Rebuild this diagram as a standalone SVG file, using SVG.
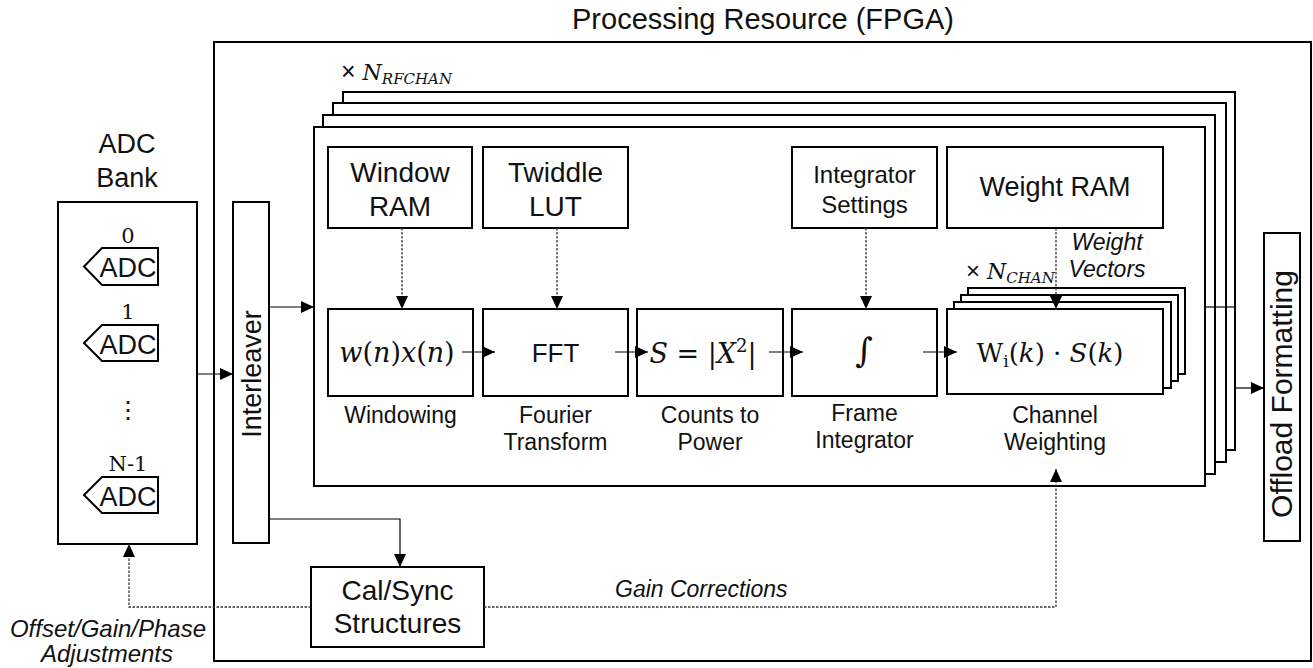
<svg xmlns="http://www.w3.org/2000/svg" width="1313" height="668" viewBox="0 0 1313 668">
<defs>
<style>
.box{fill:#fff;stroke:#000;stroke-width:2}
.t{font-family:"Liberation Sans",Arial,sans-serif;fill:#111}
.m{font-family:"DejaVu Serif","Liberation Serif",serif;fill:#111}
.i{font-style:italic}
.c{stroke:#000;stroke-width:1.2;fill:none}
.d{stroke:#333;stroke-width:1.3;fill:none;stroke-dasharray:2.5 1.5}
</style>
<marker id="ah" markerWidth="13" markerHeight="12" refX="13" refY="6" orient="auto" markerUnits="userSpaceOnUse"><path d="M0,0 L13,6 L0,12 Z" fill="#000"/></marker>
</defs>
<rect width="1313" height="668" fill="#fff"/>

<g id="fpga">
<rect class="box" x="214" y="42" width="1097" height="619"/>
<text class="t" x="763" y="29" font-size="29" text-anchor="middle">Processing Resource (FPGA)</text>
</g>

<g id="rf-channels">
<rect class="box" x="343" y="92" width="892" height="358"/>
<rect class="box" x="333" y="103" width="893" height="359"/>
<rect class="box" x="323" y="115" width="892" height="359"/>
<rect class="box" x="314" y="127" width="891" height="359"/>
<text class="m" x="341" y="80" font-size="22"><tspan font-family="Liberation Sans" font-size="25">×</tspan> <tspan class="i">N</tspan><tspan class="i" font-size="15" dy="4">RFCHAN</tspan></text>
</g>

<g id="adc-bank">
<text class="t" x="127" y="153" font-size="27" text-anchor="middle">ADC</text>
<text class="t" x="127" y="187" font-size="27" text-anchor="middle">Bank</text>
<rect class="box" x="58" y="202" width="139" height="342"/>
<text class="m" x="128" y="243" font-size="21" text-anchor="middle">0</text>
<path class="box" d="M102,248 L158,248 L158,285 L102,285 L84,266.5 Z"/>
<text class="t" x="128" y="277" font-size="27" text-anchor="middle">ADC</text>
<text class="m" x="128" y="319" font-size="21" text-anchor="middle">1</text>
<path class="box" d="M102,325 L158,325 L158,361 L102,361 L84,343 Z"/>
<text class="t" x="128" y="354" font-size="27" text-anchor="middle">ADC</text>
<text class="t" x="128" y="418" font-size="24" text-anchor="middle" font-family="DejaVu Sans">⋮</text>
<text class="m" x="128" y="471" font-size="21" text-anchor="middle">N-1</text>
<path class="box" d="M102,477 L158,477 L158,513 L102,513 L84,495 Z"/>
<text class="t" x="128" y="506" font-size="27" text-anchor="middle">ADC</text>
</g>

<g id="interleaver">
<rect class="box" x="233" y="202" width="36" height="341"/>
<text class="t" font-size="27" text-anchor="middle" transform="translate(261,374) rotate(-90)">Interleaver</text>
</g>

<g id="window-ram">
<rect class="box" x="328" y="147" width="144" height="81"/>
<text class="t" x="400" y="182" font-size="28" text-anchor="middle">Window</text>
<text class="t" x="400" y="216" font-size="28" text-anchor="middle">RAM</text>
</g>
<g id="twiddle-lut">
<rect class="box" x="483" y="147" width="145" height="81"/>
<text class="t" x="555.5" y="182" font-size="28" text-anchor="middle">Twiddle</text>
<text class="t" x="555.5" y="216" font-size="28" text-anchor="middle">LUT</text>
</g>
<g id="integrator-settings">
<rect class="box" x="792" y="147" width="145" height="81"/>
<text class="t" x="864.5" y="183" font-size="24" text-anchor="middle">Integrator</text>
<text class="t" x="864.5" y="213" font-size="24" text-anchor="middle">Settings</text>
</g>
<g id="weight-ram">
<rect class="box" x="947" y="147" width="216" height="81"/>
<text class="t" x="1055" y="196" font-size="27" text-anchor="middle">Weight RAM</text>
</g>

<g id="windowing">
<rect class="box" x="328" y="309" width="145" height="87"/>
<text class="m" x="397" y="362" font-size="27" text-anchor="middle"><tspan class="i">w</tspan>(<tspan class="i">n</tspan>)<tspan class="i">x</tspan>(<tspan class="i">n</tspan>)</text>
<text class="t" x="400.5" y="423" font-size="23" text-anchor="middle">Windowing</text>
</g>
<g id="fft">
<rect class="box" x="483" y="309" width="145" height="87"/>
<text class="t" x="555.5" y="362" font-size="26" text-anchor="middle">FFT</text>
<text class="t" x="555.5" y="423" font-size="23" text-anchor="middle">Fourier</text>
<text class="t" x="555.5" y="450" font-size="23" text-anchor="middle">Transform</text>
</g>
<g id="power">
<rect class="box" x="637" y="309" width="146" height="87"/>
<text class="m" x="703" y="363" font-size="27" text-anchor="middle"><tspan class="i">S</tspan> = |<tspan class="i">X</tspan><tspan font-size="18" dy="-11">2</tspan><tspan dy="11">|</tspan></text>
<text class="t" x="710" y="423" font-size="23" text-anchor="middle">Counts to</text>
<text class="t" x="710" y="450" font-size="23" text-anchor="middle">Power</text>
</g>
<g id="frame-integrator">
<rect class="box" x="792" y="309" width="145" height="87"/>
<text class="m" x="864" y="362" font-size="34" text-anchor="middle">∫</text>
<text class="t" x="864.5" y="421" font-size="23" text-anchor="middle">Frame</text>
<text class="t" x="864.5" y="448" font-size="23" text-anchor="middle">Integrator</text>
</g>
<g id="channel-weighting">
<rect class="box" x="968" y="288" width="217" height="86"/>
<rect class="box" x="961" y="295" width="217" height="86"/>
<rect class="box" x="954" y="302" width="217" height="86"/>
<rect class="box" x="947" y="309" width="216" height="85"/>
<text class="m" x="1050" y="362" font-size="26" text-anchor="middle">W<tspan font-size="17" dy="5">i</tspan><tspan dy="-5">(</tspan><tspan class="i">k</tspan>) · <tspan class="i">S</tspan>(<tspan class="i">k</tspan>)</text>
<text class="m" x="966" y="279" font-size="22"><tspan font-family="Liberation Sans" font-size="24">×</tspan> <tspan class="i">N</tspan><tspan class="i" font-size="15" dy="4">CHAN</tspan></text>
<text class="t" x="1055" y="423" font-size="23" text-anchor="middle">Channel</text>
<text class="t" x="1055" y="450" font-size="23" text-anchor="middle">Weighting</text>
</g>

<g id="offload">
<rect class="box" x="1264" y="233" width="36" height="308"/>
<text class="t" font-size="30" text-anchor="middle" transform="translate(1292,394) rotate(-90)">Offload Formatting</text>
</g>

<g id="cal-sync">
<rect class="box" x="311" y="567" width="173" height="80"/>
<text class="t" x="397.5" y="600" font-size="28" text-anchor="middle">Cal/Sync</text>
<text class="t" x="397.5" y="633" font-size="28" text-anchor="middle">Structures</text>
</g>

<g id="connectors">
<line class="c" x1="197" y1="374" x2="233" y2="374" marker-end="url(#ah)"/>
<line class="c" x1="269" y1="307" x2="314" y2="307" marker-end="url(#ah)"/>
<line class="c" x1="462" y1="352" x2="495" y2="352" marker-end="url(#ah)"/>
<line class="c" x1="615" y1="352" x2="648" y2="352" marker-end="url(#ah)"/>
<line class="c" x1="769" y1="352" x2="803" y2="352" marker-end="url(#ah)"/>
<line class="c" x1="923" y1="352" x2="957" y2="352" marker-end="url(#ah)"/>
<line class="d" x1="402" y1="228" x2="402" y2="309" marker-end="url(#ah)"/>
<line class="d" x1="557" y1="228" x2="557" y2="309" marker-end="url(#ah)"/>
<line class="d" x1="866" y1="228" x2="866" y2="309" marker-end="url(#ah)"/>
<line class="d" x1="1056" y1="228" x2="1056" y2="309" marker-end="url(#ah)"/>
<line class="c" x1="1205" y1="307" x2="1235" y2="307"/>
<line class="c" x1="1235" y1="388" x2="1264" y2="388" marker-end="url(#ah)"/>
<polyline class="c" points="269,519 400,519 400,567" marker-end="url(#ah)"/>
<polyline class="d" points="311,607 129,607 129,544" marker-end="url(#ah)"/>
<polyline class="d" points="484,607 1056,607 1056,469" marker-end="url(#ah)"/>
<text class="t i" x="1107" y="250" font-size="23" text-anchor="middle">Weight</text>
<text class="t i" x="1107" y="277" font-size="23" text-anchor="middle">Vectors</text>
<text class="t i" x="615" y="597" font-size="23">Gain Corrections</text>
<text class="t i" x="108" y="637" font-size="24" text-anchor="middle">Offset/Gain/Phase</text>
<text class="t i" x="107" y="662" font-size="24" text-anchor="middle">Adjustments</text>
</g>
</svg>
